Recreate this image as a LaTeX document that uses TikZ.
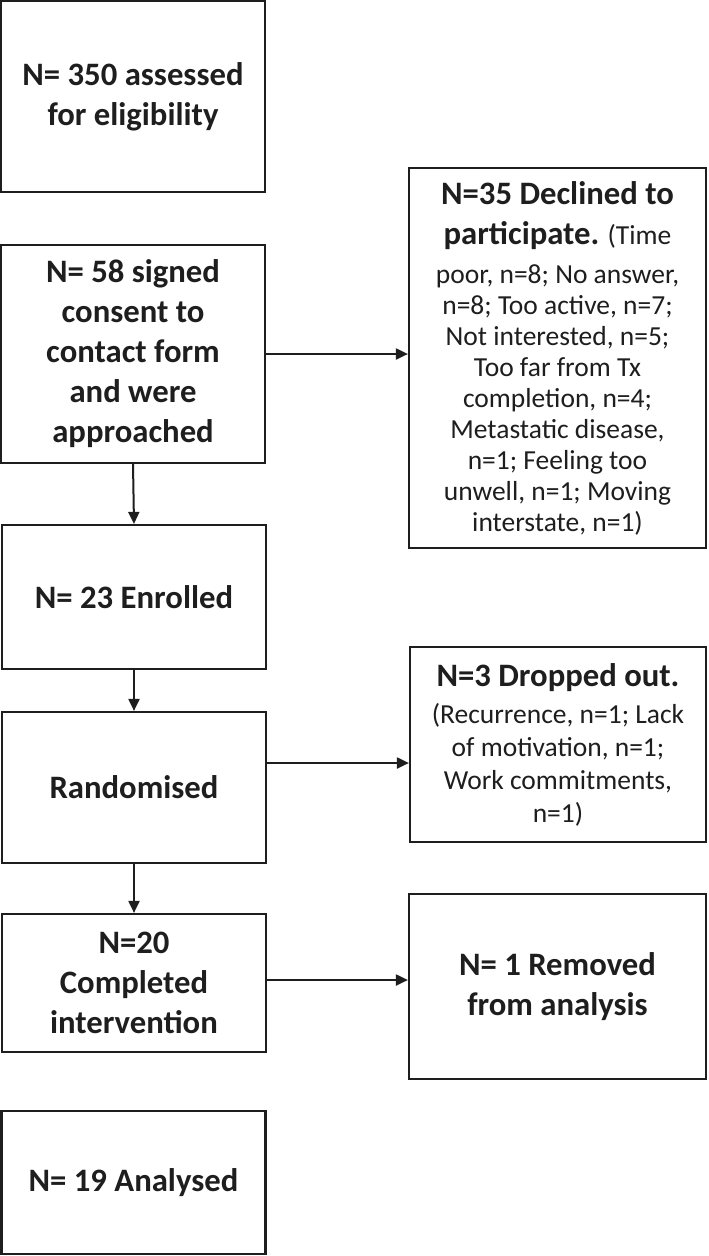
\documentclass[tikz,border=0pt]{standalone}
\usepackage{fontspec}
\setmainfont{Carlito}
\usetikzlibrary{arrows.meta}
\definecolor{ink}{RGB}{30,30,30}
\begin{document}
\begin{tikzpicture}[x=1pt,y=-1pt,
  box/.style={draw=ink, line width=2.2pt, inner sep=0pt, text=ink, align=center},
  leftbox/.style={box, minimum width=264pt, font=\fontsize{32.7}{40}\selectfont\bfseries},
  sidebox/.style={box, minimum width=297pt, font=\fontsize{27.5}{31}\selectfont},
  arr/.style={draw=ink, line width=2pt, -{Triangle[length=12pt,width=11pt]}}]
\fill[white] (0,0) rectangle (709,1256);
\useasboundingbox (0,0) rectangle (709,1256);

\node[leftbox, minimum height=191pt] (b1) at (133,96.5) {N= 350 assessed\\for eligibility};
\node[leftbox, minimum height=218pt] (b2) at (133,354) {N= 58 signed\\consent to\\contact form\\and were\\approached};
\node[leftbox, minimum height=144pt] (b3) at (134,597) {N= 23 Enrolled};
\node[leftbox, minimum height=151pt] (b4) at (134,787.5) {Randomised};
\node[leftbox, minimum height=138pt] (b5) at (134,983) {N=20\\Completed\\intervention};
\node[leftbox, minimum height=143pt] (b6) at (133.5,1182.5) {N= 19 Analysed};

\node[sidebox, minimum height=380pt] (d1) at (557.5,358) {{\fontsize{32.7}{40}\selectfont\bfseries N=35 Declined to}\\[9pt]
{\fontsize{32.7}{40}\selectfont\bfseries participate.} (Time\\[8pt]
poor, n=8; No answer,\\
n=8; Too active, n=7;\\
Not interested, n=5;\\
Too far from Tx\\
completion, n=4;\\
Metastatic disease,\\
n=1; Feeling too\\
unwell, n=1; Moving\\
interstate, n=1)};
\node[sidebox, minimum width=296pt, minimum height=195pt, font=\fontsize{27.5}{33}\selectfont] (d2) at (558,744.5) {{\fontsize{32.7}{40}\selectfont\bfseries N=3 Dropped out.}\\[4pt]
(Recurrence, n=1; Lack\\
of motivation, n=1;\\
Work commitments,\\
n=1)};
\node[box, minimum width=297pt, minimum height=185pt, font=\fontsize{32.7}{40}\selectfont\bfseries] (d3) at (557.5,986.5) {N= 1 Removed\\from analysis};

\draw[arr] (b2.east) -- (b2.east -| d1.west);
\draw[arr] (b2.south) -- (b3.north);
\draw[arr] (b3.south) -- (b4.north);
\draw[arr] (b4.east |- 0,763) -- (d2.west |- 0,763);
\draw[arr] (b4.south) -- (b5.north);
\draw[arr] (b5.east |- 0,980) -- (d3.west |- 0,980);
\end{tikzpicture}
\end{document}
